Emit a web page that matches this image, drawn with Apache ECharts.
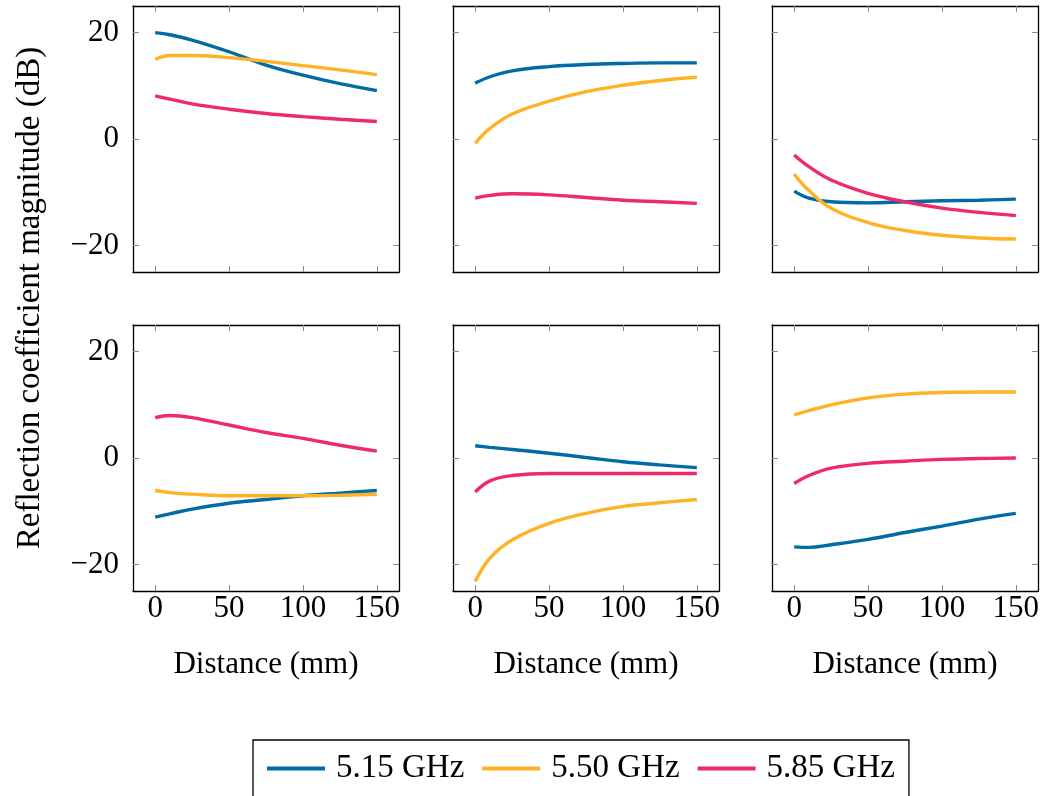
<!DOCTYPE html>
<html>
<head>
<meta charset="utf-8">
<script src="https://cdn.jsdelivr.net/npm/echarts@6/dist/echarts.min.js"></script>
<style>
html,body{margin:0;padding:0;background:#fff;}
#chart{width:1058px;height:796px;}
</style>
</head>
<body>
<div id="chart"></div>
<script>
// Distances (mm) at which values were read
const distances = [0, 10, 25, 50, 75, 100, 125, 150];
const seriesNames = ['5.15 GHz', '5.50 GHz', '5.85 GHz'];
const xTicks = [0, 50, 100, 150];
const yTicks = [-20, 0, 20];
const xLabel = 'Distance (mm)';
const yLabel = 'Reflection coefficient magnitude (dB)';

// Panel 1 (top-left)
const p1_515 = [20.0, 19.6, 18.6, 16.4, 13.9, 12.0, 10.4, 9.1];
const p1_550 = [15.0, 15.7, 15.7, 15.3, 14.6, 13.8, 13.0, 12.1];
const p1_585 = [8.1, 7.5, 6.6, 5.6, 4.8, 4.2, 3.7, 3.3];
// Panel 2 (top-middle)
const p2_515 = [10.5, 11.7, 12.8, 13.6, 14.0, 14.2, 14.3, 14.3];
const p2_550 = [-0.8, 2.0, 4.7, 7.1, 8.9, 10.1, 11.0, 11.6];
const p2_585 = [-11.1, -10.6, -10.3, -10.5, -11.0, -11.5, -11.8, -12.1];
// Panel 3 (top-right)
const p3_515 = [-9.8, -11.1, -11.8, -12.0, -11.8, -11.6, -11.5, -11.3];
const p3_550 = [-6.6, -9.7, -13.0, -15.7, -17.2, -18.1, -18.6, -18.8];
const p3_585 = [-3.0, -5.2, -7.7, -10.2, -11.8, -13.0, -13.8, -14.4];
// Panel 4 (bottom-left)
const p4_515 = [-11.1, -10.5, -9.6, -8.5, -7.8, -7.1, -6.6, -6.1];
const p4_550 = [-6.1, -6.5, -6.8, -7.1, -7.1, -7.1, -7.0, -6.8];
const p4_585 = [7.6, 8.0, 7.6, 6.2, 4.8, 3.7, 2.4, 1.3];
// Panel 5 (bottom-middle)
const p5_515 = [2.3, 2.0, 1.6, 0.9, 0.1, -0.7, -1.3, -1.8];
const p5_550 = [-23.2, -18.8, -15.4, -12.3, -10.4, -9.1, -8.4, -7.8];
const p5_585 = [-6.4, -4.3, -3.3, -2.9, -2.9, -2.9, -2.9, -2.9];
// Panel 6 (bottom-right)
const p6_515 = [-16.7, -16.8, -16.3, -15.3, -14.0, -12.8, -11.5, -10.4];
const p6_550 = [8.1, 8.9, 10.0, 11.3, 12.0, 12.3, 12.4, 12.4];
const p6_585 = [-4.8, -3.3, -1.9, -1.0, -0.6, -0.25, -0.1, 0.0];

const panels = [
  [p1_515, p1_550, p1_585],
  [p2_515, p2_550, p2_585],
  [p3_515, p3_550, p3_585],
  [p4_515, p4_550, p4_585],
  [p5_515, p5_550, p5_585],
  [p6_515, p6_550, p6_585]
];

const colors = ['#006BA4', '#FFB224', '#EE2A6D'];
const FONT = '"Liberation Serif", "DejaVu Serif", serif';
const FS = 31;
const gridLefts = [133, 453, 772];
const gridTops = [6, 325];
const gridW = 266, gridH = 266;
const tickColor = '#8a8a8a';
const minusFmt = v => String(v).replace('-', '\u2212');

const grids = [], xAxes = [], yAxes = [], series = [];
panels.forEach((panel, g) => {
  const r = Math.floor(g / 3), c = g % 3;
  grids.push({left: gridLefts[c], top: gridTops[r], width: gridW, height: gridH, containLabel: false});
  const xBase = {
    type: 'value', gridIndex: g, min: -15, max: 165,
    axisLine: {show: true, onZero: false, lineStyle: {color: '#000', width: 1.3}},
    axisTick: {show: true, inside: true, length: 6, customValues: xTicks, lineStyle: {color: tickColor, width: 1}},
    splitLine: {show: false}
  };
  xAxes.push(Object.assign({}, xBase, {
    position: 'bottom',
    axisLabel: {show: r === 1, customValues: xTicks, fontFamily: FONT, fontSize: FS, color: '#000', margin: 2},
    name: r === 1 ? xLabel : '', nameLocation: 'middle', nameGap: 58,
    nameTextStyle: {fontFamily: FONT, fontSize: FS, color: '#000'}
  }));
  xAxes.push(Object.assign({}, xBase, {position: 'top', axisLabel: {show: false}}));
  const yBase = {
    type: 'value', gridIndex: g, min: -25, max: 25,
    axisLine: {show: true, onZero: false, lineStyle: {color: '#000', width: 1.3}},
    axisTick: {show: true, inside: true, length: 6, customValues: yTicks, lineStyle: {color: tickColor, width: 1}},
    splitLine: {show: false}
  };
  yAxes.push(Object.assign({}, yBase, {
    position: 'left',
    axisLabel: {show: c === 0, customValues: yTicks, fontFamily: FONT, fontSize: FS, color: '#000', margin: 14, formatter: minusFmt}
  }));
  yAxes.push(Object.assign({}, yBase, {position: 'right', axisLabel: {show: false}}));
  panel.forEach((vals, s) => {
    series.push({
      name: seriesNames[s], type: 'line', xAxisIndex: 2 * g, yAxisIndex: 2 * g,
      data: distances.map((d, i) => [d, vals[i]]),
      smooth: 0.4, symbol: 'none', showSymbol: false,
      lineStyle: {color: colors[s], width: 3.4}, itemStyle: {color: colors[s]},
      animation: false
    });
  });
});

const chart = echarts.init(document.getElementById('chart'), null, {renderer: 'canvas'});
chart.setOption({
  animation: false,
  color: colors,
  grid: grids,
  xAxis: xAxes,
  yAxis: yAxes,
  series: series,
  legend: {
    data: seriesNames,
    left: 253, top: 740,
    icon: 'rect', itemWidth: 58, itemHeight: 4, itemGap: 18,
    padding: [12, 14, 24, 14],
    borderColor: '#000', borderWidth: 1.3, borderRadius: 0,
    textStyle: {fontFamily: FONT, fontSize: 33, color: '#000', padding: [0, 0, 0, 6]}
  },
  graphic: [{
    type: 'text', x: 30, y: 298, rotation: Math.PI / 2,
    style: {text: yLabel, fontFamily: FONT, fontSize: 33, fill: '#000', align: 'center', verticalAlign: 'middle'}
  }]
});
</script>
</body>
</html>
